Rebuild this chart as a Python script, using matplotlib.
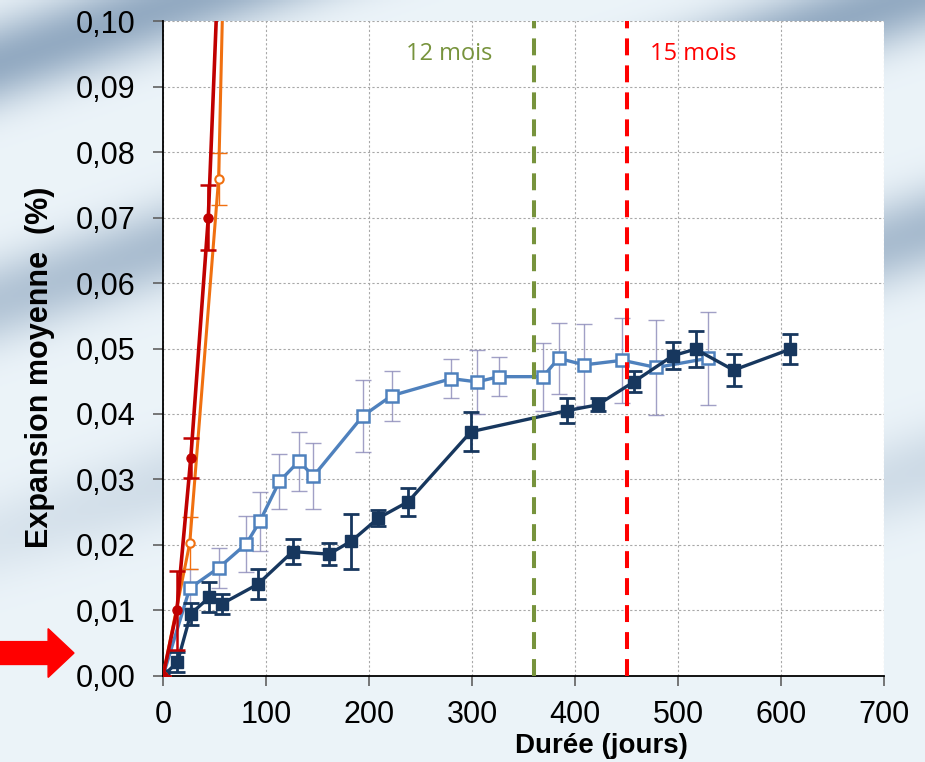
import numpy as np
import matplotlib
matplotlib.use('Agg')
import matplotlib.pyplot as plt
from matplotlib.patches import FancyArrow
from matplotlib.ticker import FuncFormatter

plt.rcParams['font.family'] = ['Liberation Sans', 'DejaVu Sans']

# navy series (filled squares)
navy_x = [0, 14, 27, 45, 57, 92, 126, 161, 183, 209, 238, 299, 392, 422, 457, 495, 517, 554, 609]
navy_y = [0.0, 0.0021, 0.0095, 0.0120, 0.0110, 0.0140, 0.0190, 0.0186, 0.0206, 0.0241, 0.0266,
          0.0373, 0.0405, 0.0414, 0.0449, 0.0489, 0.0499, 0.0467, 0.0499]
navy_err = [0.0, 0.0015, 0.0017, 0.0023, 0.0015, 0.0023, 0.0019, 0.0017, 0.0042, 0.0012, 0.0021,
            0.0030, 0.0019, 0.0010, 0.0016, 0.0021, 0.0028, 0.0024, 0.0023]

# light blue series (open squares)
blue_x = [0, 26, 54, 81, 94, 113, 132, 146, 194, 222, 280, 305, 326, 369, 384, 409, 446, 479, 529]
blue_y = [0.0, 0.0134, 0.0165, 0.0202, 0.0236, 0.0297, 0.0328, 0.0305, 0.0397, 0.0428, 0.0454,
          0.0449, 0.0457, 0.0457, 0.0485, 0.0475, 0.0482, 0.0471, 0.0485]
blue_err = [0.0, 0.0030, 0.0030, 0.0043, 0.0045, 0.0042, 0.0045, 0.0050, 0.0055, 0.0038, 0.0030,
            0.0049, 0.0030, 0.0052, 0.0054, 0.0063, 0.0065, 0.0072, 0.0071]

# red series (filled circles)
red_x = [0, 13.5, 27, 44, 58]
red_y = [0.0, 0.0100, 0.0333, 0.0700, 0.1250]
red_err = [0.0, 0.0060, 0.0030, 0.0050, 0.0050]

# orange series (open circles)
orange_x = [0, 26, 54, 62]
orange_y = [0.0, 0.0203, 0.0759, 0.1300]
orange_err = [0.0, 0.0040, 0.0040, 0.0040]

x_ticks = [0, 100, 200, 300, 400, 500, 600, 700]
y_ticks = [0.00, 0.01, 0.02, 0.03, 0.04, 0.05, 0.06, 0.07, 0.08, 0.09, 0.10]

fig = plt.figure(figsize=(9.25, 7.62), dpi=100)

# background (blurred photo look)
bg = fig.add_axes([0, 0, 1, 1], zorder=-10)
yy, xx = np.mgrid[0:1:300j, 0:1:360j]
base = np.ones((300, 360, 3))
streak = np.sin((xx * 0.9 + yy * 2.2) * 9.0) * 0.5 + 0.5
sky = np.array([0.78, 0.87, 0.93])
dark = np.array([0.35, 0.48, 0.62])
w = np.clip(1.2 - yy * 1.4, 0, 1)[..., None] * (streak[..., None] ** 3) * 0.6
base = base * (1 - 0.35) + sky * 0.35
base = base * (1 - w) + dark * w
bg.imshow(base, extent=[0, 1, 0, 1], aspect='auto', origin='upper')
bg.axis('off')

ax = fig.add_axes([0.1762, 0.1129, 0.7795, 0.8595])
ax.set_facecolor('white')

ax.errorbar(blue_x, blue_y, yerr=blue_err, fmt='none', ecolor='#8a88b8', elinewidth=1.0,
            capsize=6, capthick=1.0, alpha=0.8, zorder=3)
ax.plot(blue_x, blue_y, color='#4F81BD', lw=2.4, marker='s', ms=8.5, mfc='white',
        mec='#4F81BD', mew=1.8, zorder=4)

ax.errorbar(navy_x, navy_y, yerr=navy_err, fmt='none', ecolor='#17375E', elinewidth=2.0,
            capsize=6, capthick=2.0, zorder=5)
ax.plot(navy_x, navy_y, color='#17375E', lw=2.4, marker='s', ms=9, mfc='#17375E',
        mec='#17375E', zorder=6)

ax.errorbar(orange_x, orange_y, yerr=orange_err, fmt='none', ecolor='#F07010', elinewidth=1.0,
            capsize=6, capthick=1.0, zorder=7)
ax.plot(orange_x, orange_y, color='#F07010', lw=2.2, marker='o', ms=6, mfc='white',
        mec='#F07010', mew=1.5, zorder=7)

ax.errorbar(red_x, red_y, yerr=red_err, fmt='none', ecolor='#C00000', elinewidth=1.8,
            capsize=6, capthick=1.8, zorder=8)
ax.plot(red_x, red_y, color='#C00000', lw=2.6, marker='o', ms=6.5, mfc='#C00000',
        mec='#C00000', zorder=8)

ax.axvline(360, color='#77933C', lw=2.9, linestyle=(0, (4.2, 2.5)), zorder=9)
ax.axvline(450, color='#FF0000', lw=2.9, linestyle=(0, (4.2, 2.5)), zorder=9)
ax.text(278, 0.0950, '12 mois', color='#77933C', fontsize=17, ha='center', va='center',
        family=['Open Sans', 'DejaVu Sans'])
ax.text(515, 0.0950, '15 mois', color='#FF0000', fontsize=17, ha='center', va='center',
        family=['Open Sans', 'DejaVu Sans'])

ax.set_xlim(0, 700)
ax.set_ylim(0, 0.10)
ax.set_xticks(x_ticks)
ax.set_yticks(y_ticks)
ax.yaxis.set_major_formatter(FuncFormatter(lambda v, p: f'{v:.2f}'.replace('.', ',')))
ax.tick_params(axis='both', labelsize=22, length=7, color='#606060', width=1.2)
ax.tick_params(axis='y', pad=13)
ax.tick_params(axis='x', pad=10)
ax.grid(True, color='#a8a8a8', linestyle=(0, (2, 2)), lw=0.8)
ax.set_axisbelow(True)
for s in ['top', 'right']:
    ax.spines[s].set_visible(False)
for s in ['left', 'bottom']:
    ax.spines[s].set_color('black')
    ax.spines[s].set_linewidth(1.3)

fig.text(0.043, 0.518, 'Expansion moyenne  (%)', rotation=90, fontsize=22, fontweight='bold',
         ha='center', va='center')
fig.text(0.650, 0.004, 'Durée (jours)', fontsize=20, fontweight='bold', ha='center',
         va='bottom')

arrow = FancyArrow(0.0, 0.1430, 0.080, 0.0, width=0.030, head_width=0.064, head_length=0.028,
                   length_includes_head=True, color='#FF0000', transform=fig.transFigure,
                   figure=fig, zorder=20)
fig.patches.append(arrow)

fig.savefig('out.png', dpi=100)
